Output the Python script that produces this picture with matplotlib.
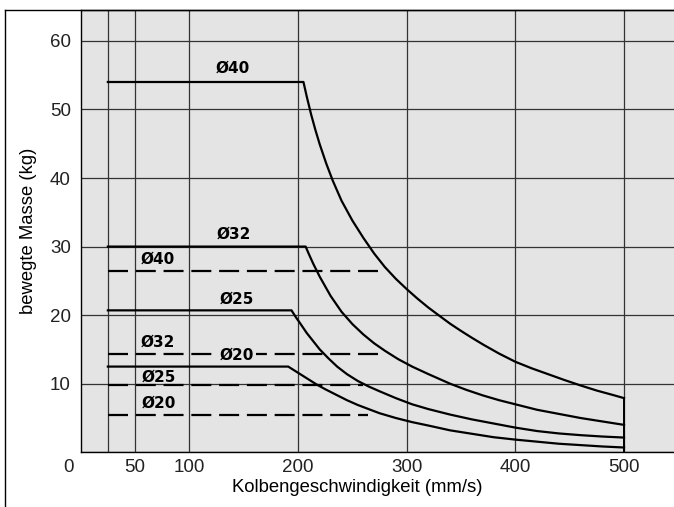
import numpy as np
import matplotlib
matplotlib.use('Agg')
from matplotlib import pyplot as plt
from matplotlib.lines import Line2D

# solid curves: speed (mm/s) -> moved mass (kg)
v40 = [25, 205, 208, 212, 216, 220, 226, 232, 240, 250, 260, 270, 280, 290, 300, 310, 320, 331,
       340, 350, 360, 371, 385, 400, 415, 430, 445, 460, 475, 490, 500]
m40 = [54, 54, 51.9, 49.3, 47.0, 44.9, 42.1, 39.6, 36.7, 33.8, 31.3, 29.0, 27.0, 25.3, 23.8, 22.4, 21.1, 19.8,
       18.75, 17.7, 16.7, 15.65, 14.4, 13.2, 12.25, 11.4, 10.55, 9.75, 9.0, 8.35, 7.9]

v32 = [25, 207, 210, 214, 220, 230, 240, 250, 260, 270, 280, 292, 305, 320, 340, 355, 370, 385,
       400, 420, 440, 460, 480, 500]
m32 = [30, 30, 28.9, 27.5, 25.6, 22.8, 20.5, 18.7, 17.2, 15.9, 14.8, 13.6, 12.5, 11.4, 10.0, 9.1, 8.3, 7.6,
       7.0, 6.2, 5.6, 5.0, 4.5, 4.0]

v25 = [25, 194, 198, 202, 208, 214, 220, 228, 236, 245, 255, 265, 275, 290, 305, 320, 340, 360,
       380, 400, 420, 440, 460, 480, 500]
m25 = [20.7, 20.7, 19.7, 18.8, 17.4, 16.2, 15.0, 13.7, 12.5, 11.4, 10.4, 9.6, 8.9, 7.9, 7.0, 6.3, 5.5, 4.8,
       4.2, 3.6, 3.1, 2.75, 2.5, 2.3, 2.15]

v20 = [25, 191, 196, 202, 210, 217, 225, 235, 245, 255, 265, 275, 290, 305, 320, 340, 360, 380,
       400, 420, 440, 460, 480, 500]
m20 = [12.5, 12.5, 12.0, 11.4, 10.6, 9.9, 9.2, 8.4, 7.6, 6.9, 6.3, 5.7, 5.0, 4.4, 3.9, 3.2, 2.7, 2.2,
       1.85, 1.55, 1.25, 1.05, 0.85, 0.7]

# dashed limits
dash_start = 25
dash_end = [277, 275, 260, 264]
dash_mass = [26.5, 14.3, 9.75, 5.5]

# labels in the plot
lab_text = ['Ø40', 'Ø32', 'Ø40', 'Ø25', 'Ø32', 'Ø20', 'Ø25', 'Ø20']
lab_x = [140, 141, 71, 144, 71, 144, 72, 72]
lab_y = [56.0, 31.8, 28.1, 22.4, 16.1, 14.2, 10.9, 7.2]

xgrid = [25, 50, 100, 200, 300, 400, 500]
xlabels = ['', '50', '100', '200', '300', '400', '500']
ygrid = [0, 10, 20, 30, 40, 50, 60]
ylabels = ['', '10', '20', '30', '40', '50', '60']

bg = '#e4e4e4'
plt.rcParams['font.family'] = ['Liberation Sans', 'DejaVu Sans']

fig = plt.figure(figsize=(6.74, 5.07), dpi=100)
ax = fig.add_axes([80.7 / 674, (507 - 452.3) / 507, (674 - 80.7) / 674, (452.3 - 10) / 507])
ax.set_facecolor(bg)

for v, m in [(v40, m40), (v32, m32), (v25, m25), (v20, m20)]:
    ax.plot(v, m, color='k', linewidth=1.6, solid_joinstyle='round')
    ax.vlines(v[-1], 0, m[-1], color='k', linewidth=1.4)

for e, m in zip(dash_end, dash_mass):
    ax.plot([dash_start, e], [m, m], color='k', linewidth=1.6, dashes=(9, 3.5))

for t, x, y in zip(lab_text, lab_x, lab_y):
    box = None
    if t == 'Ø20' and y > 12:
        box = dict(facecolor=bg, edgecolor='none', pad=1)
    ax.text(x, y, t, fontsize=11, fontweight='bold', family='DejaVu Sans',
            ha='center', va='center', bbox=box)

ax.set_xlim(0, 546)
ax.set_ylim(0, 64.5)
ax.set_xticks(xgrid)
ax.set_xticklabels(xlabels)
ax.set_yticks(ygrid)
ax.set_yticklabels(ylabels)
ax.tick_params(length=0, labelsize=13.5, colors='#222222')
ax.tick_params(axis='x', pad=5)
ax.tick_params(axis='y', pad=7)
ax.grid(True, color='#333333', linewidth=0.9)
ax.set_axisbelow(True)
ax.spines['right'].set_visible(False)
for s in ['left', 'bottom', 'top']:
    ax.spines[s].set_linewidth(1.0)

ax.annotate('0', xy=(0, 0), xycoords='axes fraction', xytext=(-5.3, -4.5),
            textcoords='offset points', ha='right', va='top', fontsize=13.5, color='#222222')

ax.set_xlabel('Kolbengeschwindigkeit (mm/s)', fontsize=13.3)
ax.xaxis.set_label_coords(0.4666, -0.06)
ax.set_ylabel('bewegte Masse (kg)', fontsize=13.3)
ax.yaxis.set_label_coords(-0.074, 0.5)

# frame of the scanned sheet
fig.add_artist(Line2D([5 / 674, 5 / 674], [0, 1 - 10 / 507], transform=fig.transFigure, color='k', linewidth=1))
fig.add_artist(Line2D([5 / 674, 1], [1 - 10 / 507, 1 - 10 / 507], transform=fig.transFigure, color='k', linewidth=1))

fig.savefig('out.png', dpi=100)
